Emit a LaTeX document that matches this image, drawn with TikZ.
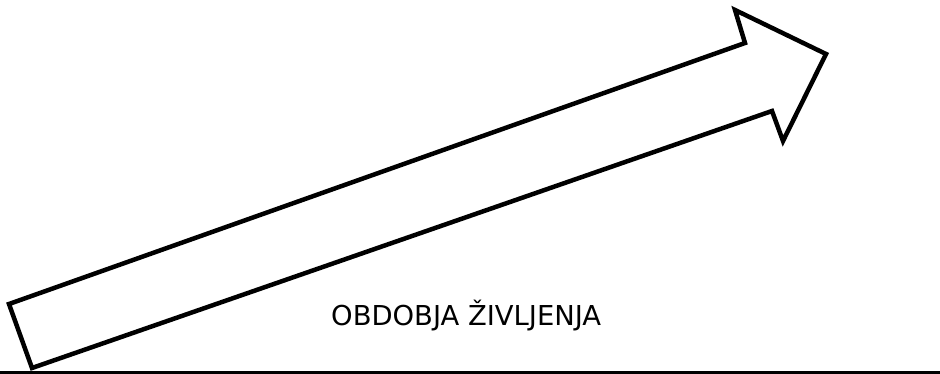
\documentclass[tikz,border=0pt]{standalone}
\usepackage{fontspec}
\setmainfont{DejaVu Sans}
\usepackage{tikz}
\usetikzlibrary{positioning}

\begin{document}
\begin{tikzpicture}[
  x=1pt, y=-1pt,
  bigarrow/.style={
    draw=black,
    line width=4.5pt,
    line join=miter,
    fill=white
  },
  groundline/.style={draw=black, line width=3pt},
  label/.style={
    font=\fontsize{27.4}{30}\selectfont,
    inner sep=0pt,
    anchor=base west
  }
]
\useasboundingbox (0,0) rectangle (940,374);

% arrow outline points
\coordinate (tailtop) at (9,304);
\coordinate (notchtop) at (745,43);
\coordinate (barbtop) at (735,10);
\coordinate (tip) at (826,54);
\coordinate (barbbot) at (783,141);
\coordinate (notchbot) at (772,111);
\coordinate (tailbot) at (32,368);

\path[bigarrow] (tailtop) -- (notchtop) -- (barbtop) -- (tip)
  -- (barbbot) -- (notchbot) -- (tailbot) -- cycle;

% ground line
\coordinate (groundleft) at (0,372);
\coordinate (groundright) at (940,372);
\path[groundline] (groundleft) -- (groundright);

\node[label] (periods) at (331,325) {OBDOBJA ŽIVLJENJA};

\end{tikzpicture}
\end{document}
